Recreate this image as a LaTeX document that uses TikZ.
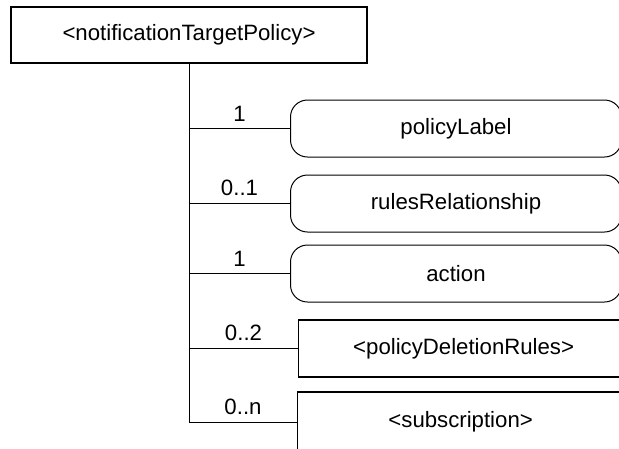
\documentclass[tikz,border=0pt]{standalone}
\usepackage{fontspec}
\setmainfont{Liberation Sans}
\begin{document}
\begin{tikzpicture}[x=1pt,y=-1pt,line width=1pt,
  every node/.style={font=\fontsize{22.2}{26}\selectfont},
  elem/.style={draw,rectangle,inner sep=0pt,anchor=west,minimum width=330pt,line width=1.3pt},
  attr/.style={draw,rectangle,inner sep=0pt,anchor=west,rounded corners=17pt,minimum height=57pt},
  mult/.style={midway,above,inner sep=0pt,yshift=7pt}]
\useasboundingbox (0,0) rectangle (619,448);
\clip (0,0) rectangle (619,448);
\node[draw,rectangle,inner sep=0pt,line width=1.3pt,minimum width=356pt,minimum height=56pt] (root) at (189,35) {<notificationTargetPolicy>};
\node[attr,minimum width=331pt] (pl) at (290,128.5) {policyLabel};
\node[attr,minimum width=331pt] (rr) at (290,203.5) {rulesRelationship};
\node[attr,minimum width=331pt] (ac) at (290,273.5) {action};
\node[elem,minimum height=57pt] (pdr) at (298,348.5) {<policyDeletionRules>};
\node[elem,minimum height=60pt,minimum width=326pt] (sub) at (297,422) {<subscription>};
\draw (root.south) -- (root.south |- sub.west);
\draw (root.south |- pl.west) -- (pl.west) node[mult] {1};
\draw (root.south |- rr.west) -- (rr.west) node[mult] {0..1};
\draw (root.south |- ac.west) -- (ac.west) node[mult] {1};
\draw (root.south |- pdr.west) -- (pdr.west) node[mult] {0..2};
\draw (root.south |- sub.west) -- (sub.west) node[mult] {0..n};
\end{tikzpicture}
\end{document}
